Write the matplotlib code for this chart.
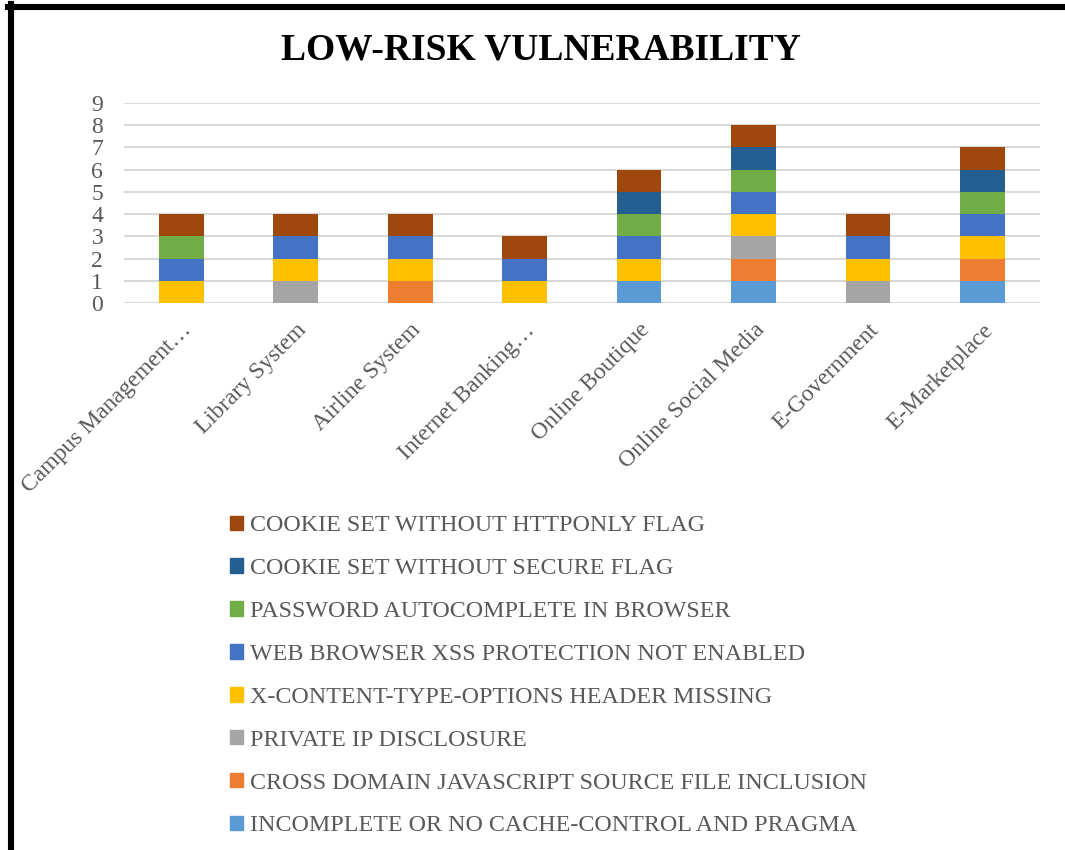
import numpy as np
import matplotlib
matplotlib.use("Agg")
import matplotlib.pyplot as plt
from matplotlib.lines import Line2D
from matplotlib.patches import Patch

plt.rcParams['font.family'] = ['Liberation Serif', 'DejaVu Serif']

# categories (x axis)
systems = ["Campus Management…", "Library System", "Airline System", "Internet Banking…",
           "Online Boutique", "Online Social Media", "E-Government", "E-Marketplace"]

# series, stacked from bottom to top
series_names = ["INCOMPLETE OR NO CACHE-CONTROL AND PRAGMA",
                "CROSS DOMAIN JAVASCRIPT SOURCE FILE INCLUSION",
                "PRIVATE IP DISCLOSURE",
                "X-CONTENT-TYPE-OPTIONS HEADER MISSING",
                "WEB BROWSER XSS PROTECTION NOT ENABLED",
                "PASSWORD AUTOCOMPLETE IN BROWSER",
                "COOKIE SET WITHOUT SECURE FLAG",
                "COOKIE SET WITHOUT HTTPONLY FLAG"]
cache_control = [0, 0, 0, 0, 1, 1, 0, 1]
cross_domain  = [0, 0, 1, 0, 0, 1, 0, 1]
private_ip    = [0, 1, 0, 0, 0, 1, 1, 0]
x_content     = [1, 1, 1, 1, 1, 1, 1, 1]
xss_protect   = [1, 1, 1, 1, 1, 1, 1, 1]
password_ac   = [1, 0, 0, 0, 1, 1, 0, 1]
cookie_secure = [0, 0, 0, 0, 1, 1, 0, 1]
cookie_http   = [1, 1, 1, 1, 1, 1, 1, 1]
values = [cache_control, cross_domain, private_ip, x_content,
          xss_protect, password_ac, cookie_secure, cookie_http]
colors = ["#5B9BD5", "#ED7D31", "#A5A5A5", "#FFC000",
          "#4472C4", "#70AD47", "#255E91", "#9E480E"]

fig = plt.figure(figsize=(10.65, 8.5), dpi=100)
ax = fig.add_axes([0.1164, 0.6435, 0.860, 0.2353])

x = np.arange(len(systems))
bottom = np.zeros(len(systems))
for name, vals, c in zip(series_names, values, colors):
    ax.bar(x, vals, 0.39, bottom=bottom, color=c, label=name, zorder=3)
    bottom += np.array(vals)

ax.set_ylim(0, 9)
ax.set_xlim(-0.5, len(systems) - 0.5)
ax.set_yticks(range(10))
ax.yaxis.grid(True, color="#D9D9D9", linewidth=1.5, zorder=0)
for s in ax.spines.values():
    s.set_visible(False)
ax.tick_params(axis='both', length=0, labelsize=17, labelcolor="#595959")
ax.tick_params(axis='y', pad=15)
ax.set_xticks(x)
ax.set_xticklabels(systems, rotation=45, ha='right', va='top', rotation_mode='anchor')
ax.tick_params(axis='x', pad=12)

fig.text(0.508, 1 - 50 / 850, "LOW-RISK VULNERABILITY", ha='center', va='center',
         fontsize=27, fontweight='bold')

handles = [Patch(color=c) for c in colors][::-1]
fig.legend(handles, series_names[::-1], loc='upper left', bbox_to_anchor=(0.207, 0.405),
           frameon=False, fontsize=17.3, labelcolor="#595959", handlelength=0.55,
           handleheight=0.55, handletextpad=0.3, labelspacing=0.91, borderaxespad=0)

# black frame on top and left edge
fig.add_artist(Line2D([8 / 1065, 1], [1 - 7 / 850, 1 - 7 / 850], color='black', linewidth=4.4))
fig.add_artist(Line2D([11 / 1065, 11 / 1065], [0, 1 - 4 / 850], color='black', linewidth=4.4))

plt.savefig("out.png", dpi=100)
